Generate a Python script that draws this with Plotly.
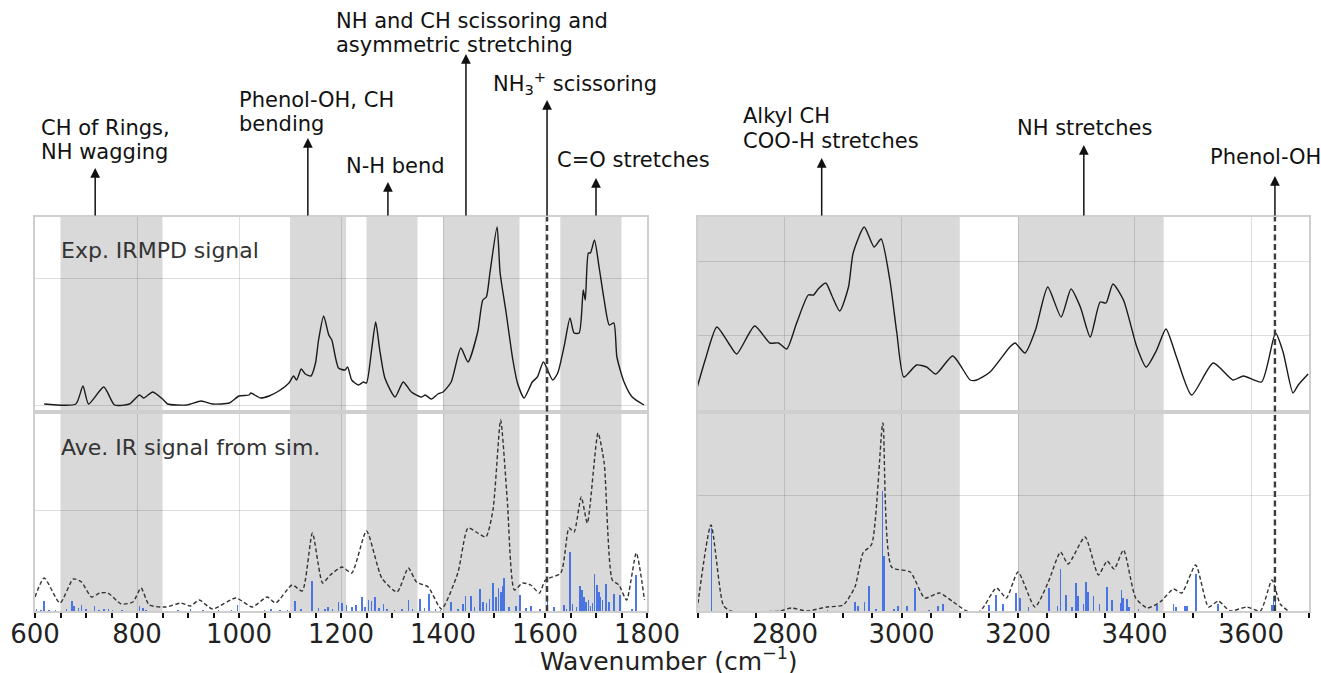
import plotly.graph_objects as go

W, H = 1321, 673

# ---------------- data ----------------
# Experimental IRMPD signal, 600-1800 cm-1 (arbitrary intensity units)
exp_left_x = [618, 680, 694, 705, 735, 756, 785, 805, 813, 831, 850, 860, 897, 926, 948, 981, 1000,
              1020, 1023, 1042, 1059, 1078, 1098, 1107, 1113, 1122, 1130, 1141, 1150, 1156, 1166, 1176,
              1182, 1195, 1208, 1213, 1221, 1234, 1244, 1250, 1260, 1268, 1276, 1286, 1306, 1322, 1338,
              1358, 1365, 1377, 1390, 1400, 1416, 1435, 1449, 1468, 1478, 1485, 1492, 1506, 1512, 1523,
              1537, 1546, 1559, 1575, 1585, 1597, 1615, 1625, 1638, 1649, 1657, 1667, 1675, 1679, 1685,
              1689, 1697, 1706, 1716, 1726, 1735, 1741, 1755, 1771, 1794]
exp_left_y = [1, 1, 19, 1, 18, 0, 1, 10, 7, 13, 6, 1, 0, 4, 1, 2, 9,
              10, 12, 7, 9, 14, 22, 29, 25, 36, 31, 29, 42, 65, 89, 70,
              65, 37, 35, 38, 25, 20, 23, 22, 55, 83, 55, 27, 8, 23, 13,
              8, 10, 6, 11, 13, 23, 57, 43, 73, 105, 108, 132, 178, 132, 95,
              45, 22, 7, 23, 28, 43, 25, 32, 60, 87, 72, 72, 115, 105, 152,
              152, 165, 138, 105, 80, 82, 48, 23, 8, 0]

# Experimental IRMPD signal, 2650-3700 cm-1
exp_right_x = [2648, 2663, 2683, 2703, 2717, 2748, 2774, 2789, 2803, 2820, 2840, 2849, 2857, 2870,
               2880, 2894, 2909, 2917, 2936, 2953, 2965, 2980, 2992, 3004, 3026, 3043, 3059, 3088,
               3118, 3129, 3152, 3186, 3195, 3212, 3230, 3251, 3274, 3291, 3307, 3324, 3341, 3351,
               3363, 3381, 3404, 3420, 3438, 3454, 3472, 3498, 3535, 3569, 3587, 3618, 3642, 3655,
               3672, 3681, 3698]
exp_right_y = [20, 50, 83, 67, 56, 84, 67, 67, 61, 87, 115, 115, 121, 127,
               115, 99, 123, 157, 183, 163, 171, 130, 77, 33, 45, 43, 36, 54,
               30, 30, 38, 63, 67, 57, 80, 123, 93, 121, 103, 73, 108, 107,
               126, 110, 63, 43, 60, 81, 53, 15, 47, 30, 34, 28, 77, 58,
               17, 25, 36]

# Averaged simulated IR signal, 600-1800 cm-1
sim_left_x = [600, 618, 649, 675, 691, 711, 727, 743, 769, 792, 808, 824, 857, 886, 905, 922, 948,
              994, 1026, 1055, 1072, 1104, 1124, 1144, 1164, 1179, 1202, 1221, 1250, 1280, 1310,
              1332, 1348, 1371, 1397, 1429, 1449, 1468, 1484, 1498, 1513, 1526, 1540, 1556, 1572,
              1589, 1601, 1631, 1647, 1657, 1671, 1683, 1704, 1716, 1732, 1745, 1760, 1779, 1795]
sim_left_y = [14, 33, 8, 32, 29, 14, 18, 18, 7, 9, 23, 6, 4, 8, 5, 11, 2,
              13, 4, 14, 8, 26, 20, 78, 28, 36, 44, 38, 80, 33, 19,
              43, 29, 24, 2, 38, 83, 78, 74, 101, 191, 111, 21, 28, 26,
              18, 31, 38, 83, 79, 114, 88, 178, 148, 31, 26, 11, 58, 11]

# Averaged simulated IR signal, 2650-3700 cm-1
sim_right_x = [2649, 2673, 2694, 2706, 2791, 2811, 2837, 2872, 2900, 2920, 2934, 2949, 2968, 2983,
               3015, 3040, 3065, 3089, 3112, 3135, 3163, 3180, 3200, 3229, 3252, 3273, 3286, 3315,
               3338, 3353, 3365, 3381, 3402, 3422, 3444, 3467, 3481, 3505, 3527, 3544, 3564, 3593,
               3616, 3636, 3650, 3664]
sim_right_y = [1, 86, 6, 0, 0, 3, 0, 4, 6, 24, 58, 67, 188, 44,
               39, 13, 18, 9, 0, 0, 23, 13, 39, 4, 29, 59, 47, 74,
               36, 50, 42, 61, 13, 3, 9, 22, 18, 46, 4, 10, 0, 4,
               0, 31, 7, 0]

# Stick spectra (individual simulated modes)
stick_left_x = [603, 612, 618, 627, 640, 662, 673, 677, 685, 691, 700, 717, 725, 735, 744, 752, 770,
                805, 812, 818, 880, 905, 930, 960, 985, 997, 1050, 1063, 1080, 1095, 1110, 1122,
                1143, 1156, 1168, 1175, 1183, 1195, 1202, 1211, 1221, 1230, 1241, 1247, 1254, 1260,
                1267, 1275, 1283, 1290, 1305, 1320, 1332, 1340, 1355, 1364, 1373, 1385, 1395, 1416,
                1430, 1439, 1444, 1455, 1462, 1472, 1478, 1485, 1491, 1498, 1504, 1509, 1514, 1517,
                1520, 1530, 1543, 1551, 1563, 1572, 1590, 1605, 1618, 1637, 1642, 1649, 1654, 1662,
                1668, 1673, 1676, 1680, 1685, 1689, 1693, 1697, 1702, 1706, 1709, 1713, 1719, 1725,
                1735, 1747, 1771, 1779]
stick_left_y = [3, 2, 11, 2, 2, 3, 11, 6, 4, 7, 3, 6, 2, 3, 3, 2, 2,
                6, 4, 2, 2, 3, 2, 2, 2, 7, 2, 3, 2, 2, 11, 3,
                31, 4, 3, 5, 3, 10, 9, 7, 5, 7, 15, 5, 12, 11,
                15, 4, 8, 3, 2, 3, 12, 3, 13, 4, 18, 3, 2, 10,
                3, 8, 16, 16, 5, 23, 10, 9, 13, 29, 15, 24, 20, 26,
                34, 5, 6, 17, 4, 6, 3, 11, 5, 7, 3, 60, 8, 5,
                26, 22, 15, 10, 12, 6, 9, 38, 27, 20, 15, 12, 28, 10,
                18, 17, 3, 37]

stick_right_x = [2673, 2872, 2920, 2925, 2936, 2944, 2955, 2967, 2969, 2986, 2993, 3009, 3023, 3046,
                 3062, 3071, 3149, 3162, 3174, 3196, 3203, 3217, 3252, 3267, 3272, 3282, 3292, 3299,
                 3302, 3312, 3316, 3319, 3329, 3339, 3352, 3361, 3375, 3377, 3380, 3386, 3390, 3406,
                 3438, 3466, 3471, 3486, 3489, 3505, 3543, 3635, 3638, 3641]
stick_right_y = [84, 2, 10, 6, 10, 26, 3, 121, 56, 3, 6, 6, 24, 2,
                 6, 8, 7, 17, 8, 19, 14, 5, 24, 6, 43, 17, 5, 29,
                 16, 8, 30, 20, 16, 8, 25, 12, 9, 22, 14, 13, 5, 3,
                 7, 8, 5, 6, 6, 38, 8, 7, 16, 13]

# Shaded assignment regions
bands_left = [(650, 850), (1100, 1210), (1250, 1350), (1400, 1550), (1630, 1750)]
bands_right = [(2650, 3100), (3200, 3450)]

# Assignment labels: (text lines, left px, centre px of each line)
labels = [
    (["CH of Rings,", "NH wagging"], 39, [128, 152]),
    (["Phenol-OH, CH", "bending"], 237, [100, 124]),
    (["N-H bend"], 344, [166]),
    (["NH and CH scissoring and", "asymmetric stretching"], 334, [21, 45]),
    (["NH<sub>3</sub><sup>+</sup> scissoring"], 491, [83]),
    (["C=O stretches"], 555, [160]),
    (["Alkyl CH", "COO-H stretches"], 741, [116, 141]),
    (["NH stretches"], 1015, [128]),
    (["Phenol-OH"], 1208, [157]),
]
# Arrows: (axis, wavenumber, tip px)
arrows = [("x", 718, 168), ("x", 1135, 138), ("x", 1292, 182), ("x", 1445, 54),
          ("x", 1604, 100), ("x", 1700, 178), ("x2", 2863, 158), ("x2", 3313, 145),
          ("x2", 3641, 176)]
dashed_lines = [("x", 1604), ("x2", 3641)]

# ---------------- figure ----------------
FONT = "DejaVu Sans"
top_px, mid_top_px, mid_bot_px, bot_px = 217, 410, 413.5, 611
def py(p):
    return 1 - p / H

fig = go.Figure()
stick_color = "rgba(55,105,225,0.9)"
fig.add_trace(go.Bar(x=stick_left_x, y=stick_left_y, width=3.2, xaxis="x", yaxis="y",
                     marker=dict(color=stick_color, line=dict(width=0)), showlegend=False, hoverinfo="skip"))
fig.add_trace(go.Bar(x=stick_right_x, y=stick_right_y, width=2.8, xaxis="x2", yaxis="y2",
                     marker=dict(color=stick_color, line=dict(width=0)), showlegend=False, hoverinfo="skip"))
dash_line = dict(color="#333333", width=1.4, dash="4px,2.5px", shape="spline", smoothing=0.6)
fig.add_trace(go.Scatter(x=sim_left_x, y=sim_left_y, mode="lines", line=dash_line, xaxis="x", yaxis="y",
                         showlegend=False))
fig.add_trace(go.Scatter(x=sim_right_x, y=sim_right_y, mode="lines", line=dash_line, xaxis="x2", yaxis="y2",
                         showlegend=False))
solid_line = dict(color="#1a1a1a", width=1.4, shape="spline", smoothing=0.6)
fig.add_trace(go.Scatter(x=exp_left_x, y=exp_left_y, mode="lines", line=solid_line, xaxis="x3", yaxis="y3",
                         showlegend=False))
fig.add_trace(go.Scatter(x=exp_right_x, y=exp_right_y, mode="lines", line=solid_line, xaxis="x4", yaxis="y4",
                         showlegend=False))

GRID = "rgba(0,0,0,0.13)"
BORDER = "#cfcfcf"
left_dom = [35 / W, 647 / W]
right_dom = [697.6 / W, 1309.3 / W]
bot_dom = [py(bot_px), py(mid_bot_px)]
top_dom = [py(mid_top_px), py(top_px)]

def xax(domain, rng, tick0, bottom, anchor):
    d = dict(domain=domain, range=rng, anchor=anchor, automargin=False, showline=True, mirror=True,
             linecolor=BORDER, linewidth=1.5, showgrid=True, gridcolor=GRID, gridwidth=1.2, zeroline=False,
             tickmode="linear", tick0=tick0, dtick=200)
    if bottom:
        d.update(ticks="outside", ticklen=5, tickwidth=1.5, tickcolor="#111", showticklabels=True,
                 ticklabelstandoff=-6,
                 tickfont=dict(size=26, color="#222", family=FONT),
                 minor=dict(tickmode="linear", tick0=tick0, dtick=50, ticks="outside", ticklen=5,
                            tickwidth=1.5, tickcolor="#111", showgrid=False))
    else:
        d.update(ticks="", showticklabels=False)
    return d

def yax(domain, rng, vals, anchor):
    return dict(domain=domain, range=rng, anchor=anchor, automargin=False, showline=True, mirror=True,
                linecolor=BORDER, linewidth=1.5, showgrid=True, gridcolor=GRID, gridwidth=1.2,
                zeroline=False, tickmode="array", tickvals=vals, ticks="", showticklabels=False)

shapes = []
for a, b in bands_left:
    shapes.append(dict(type="rect", xref="x", yref="paper", x0=a, x1=b, y0=py(bot_px), y1=py(top_px),
                       fillcolor="#d9d9d9", line=dict(width=0), layer="below"))
for a, b in bands_right:
    shapes.append(dict(type="rect", xref="x2", yref="paper", x0=a, x1=b, y0=py(bot_px), y1=py(top_px),
                       fillcolor="#d9d9d9", line=dict(width=0), layer="below"))
for ax_, xv in dashed_lines:
    shapes.append(dict(type="line", xref=ax_, yref="paper", x0=xv, x1=xv, y0=py(bot_px), y1=py(top_px),
                       line=dict(color="#3c3c3c", width=2.4, dash="6px,3.5px"), layer="above"))

annotations = []
for lines, left, centres in labels:
    for t, c in zip(lines, centres):
        annotations.append(dict(text=t, xref="paper", yref="paper", x=left / W, y=py(c), xanchor="left",
                                yanchor="middle", showarrow=False,
                                font=dict(size=21, color="#111", family=FONT)))
for ax_, xv, tip in arrows:
    annotations.append(dict(text="", xref=ax_, yref="paper", x=xv, y=py(tip), ax=0, ay=top_px - tip,
                            showarrow=True, arrowhead=2, arrowsize=1.3, arrowwidth=1.5,
                            arrowcolor="#111", standoff=0, startstandoff=0))
annotations.append(dict(text="Exp. IRMPD signal", xref="paper", yref="paper", x=59 / W, y=py(250),
                        xanchor="left", yanchor="middle", showarrow=False,
                        font=dict(size=22, color="#333", family=FONT)))
annotations.append(dict(text="Ave. IR signal from sim.", xref="paper", yref="paper", x=59 / W, y=py(447),
                        xanchor="left", yanchor="middle", showarrow=False,
                        font=dict(size=22, color="#333", family=FONT)))
annotations.append(dict(text="Wavenumber (cm<sup>−1</sup>)", xref="paper", yref="paper", x=669 / W,
                        y=py(659), xanchor="center", yanchor="middle", showarrow=False,
                        font=dict(size=25, color="#222", family=FONT)))

fig.update_layout(
    width=W, height=H, autosize=False,
    margin=dict(l=0, r=0, t=0, b=0, autoexpand=False),
    paper_bgcolor="white", plot_bgcolor="rgba(0,0,0,0)",
    font=dict(family=FONT),
    showlegend=False,
    xaxis=xax(left_dom, [600, 1800], 600, True, "y"),
    yaxis=yax(bot_dom, [0, 197.5], [0, 101], "x"),
    xaxis2=xax(right_dom, [2650, 3700], 2600, True, "y2"),
    yaxis2=yax(bot_dom, [0, 197.5], [0, 116], "x2"),
    xaxis3=xax(left_dom, [600, 1800], 600, False, "y3"),
    yaxis3=yax(top_dom, [-5, 188], [0, 127], "x3"),
    xaxis4=xax(right_dom, [2650, 3700], 2600, False, "y4"),
    yaxis4=yax(top_dom, [0, 193], [0, 74.5, 149], "x4"),
    shapes=shapes,
    annotations=annotations,
    bargap=0,
)

fig.write_html(
    "out.html",
    config={"displayModeBar": False},
    post_script="document.body.style.margin='0px';document.body.style.overflow='hidden';"
                "document.documentElement.style.overflow='hidden';",
)
